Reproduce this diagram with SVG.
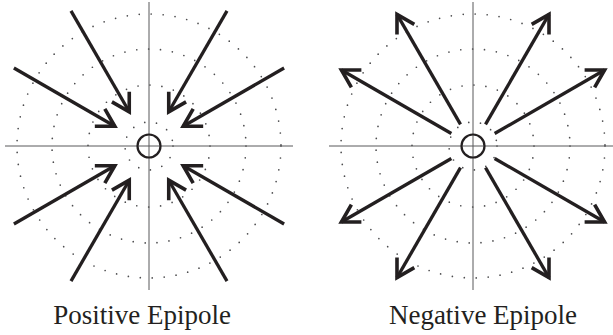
<svg xmlns="http://www.w3.org/2000/svg" width="613" height="335" viewBox="0 0 613 335">
  <style>
    .axis { stroke: #58595b; stroke-width: 1; fill: none; }
    .ring { stroke: #4d4d4f; stroke-width: 1.7; fill: none; stroke-dasharray: 0 12; stroke-linecap: round; }
    .epi { stroke: #231f20; stroke-width: 2.2; fill: none; }
    .arrow { stroke: #231f20; stroke-width: 3.3; fill: none; stroke-linecap: butt; marker-end: url(#head); }
    .label { font-family: "Liberation Serif", "Times New Roman", serif; font-size: 27px; fill: #231f20; text-anchor: middle; }
  </style>
  <defs>
    <marker id="head" markerUnits="userSpaceOnUse" viewBox="-24 -16 30 32" markerWidth="30" markerHeight="32" refX="0" refY="0" orient="auto" overflow="visible">
      <path d="M-17.3,-10 L0,0 L-17.3,10" fill="none" stroke="#231f20" stroke-width="3.6" stroke-linejoin="miter" stroke-miterlimit="10"/>
    </marker>
  </defs>

  <g id="positive-epipole">
    <g id="positive-grid">
      <line class="axis" x1="5" y1="146" x2="293" y2="146"/>
      <line class="axis" x1="149" y1="2" x2="149" y2="290"/>
      <circle class="ring" cx="149" cy="146" r="24"/>
      <circle class="ring" cx="149" cy="146" r="61"/>
      <circle class="ring" cx="149" cy="146" r="97"/>
      <circle class="ring" cx="149" cy="146" r="132"/>
    </g>
    <circle id="positive-center" class="epi" cx="149" cy="146" r="11.5"/>
    <text id="positive-label" class="label" x="142" y="324">Positive Epipole</text>
  </g>

  <g id="negative-epipole">
    <g id="negative-grid">
      <line class="axis" x1="329" y1="146" x2="613" y2="146"/>
      <line class="axis" x1="473" y1="2" x2="473" y2="290"/>
      <circle class="ring" cx="473" cy="146" r="24"/>
      <circle class="ring" cx="473" cy="146" r="61"/>
      <circle class="ring" cx="473" cy="146" r="97"/>
      <circle class="ring" cx="473" cy="146" r="132"/>
    </g>
    <circle id="negative-center" class="epi" cx="473" cy="146" r="11.5"/>
    <text id="negative-label" class="label" x="483" y="324">Negative Epipole</text>
  </g>

  <g id="connectors">
    <g id="positive-arrows">
      <line class="arrow" x1="13.9" y1="68" x2="114.8" y2="126.25"/>
      <line class="arrow" x1="71" y1="10.9" x2="129.25" y2="111.8"/>
      <line class="arrow" x1="227" y1="10.9" x2="168.75" y2="111.8"/>
      <line class="arrow" x1="284.1" y1="68" x2="183.2" y2="126.25"/>
      <line class="arrow" x1="284.1" y1="224" x2="183.2" y2="165.75"/>
      <line class="arrow" x1="227" y1="281.1" x2="168.75" y2="180.2"/>
      <line class="arrow" x1="71" y1="281.1" x2="129.25" y2="180.2"/>
      <line class="arrow" x1="13.9" y1="224" x2="114.8" y2="165.75"/>
    </g>
    <g id="negative-arrows">
      <line class="arrow" x1="451.35" y1="133.5" x2="341.4" y2="70"/>
      <line class="arrow" x1="460.5" y1="124.35" x2="397" y2="14.4"/>
      <line class="arrow" x1="485.5" y1="124.35" x2="549" y2="14.4"/>
      <line class="arrow" x1="494.65" y1="133.5" x2="604.6" y2="70"/>
      <line class="arrow" x1="494.65" y1="158.5" x2="604.6" y2="222"/>
      <line class="arrow" x1="485.5" y1="167.65" x2="549" y2="277.6"/>
      <line class="arrow" x1="460.5" y1="167.65" x2="397" y2="277.6"/>
      <line class="arrow" x1="451.35" y1="158.5" x2="341.4" y2="222"/>
    </g>
  </g>
</svg>
